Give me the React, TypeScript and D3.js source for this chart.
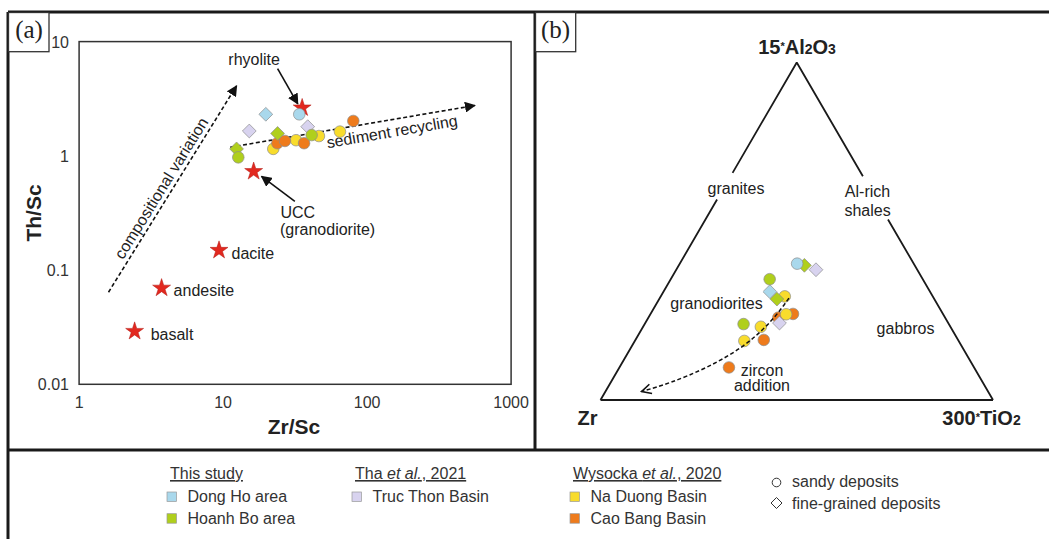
import React from "react";
import * as d3 from "d3";

const W = 1049;
const H = 539;

// ---------- Panel (a) data ----------
const xTicksA = [1, 10, 100, 1000];
const yTicksA = [0.01, 0.1, 1, 10];

const starLabels = ["rhyolite", "UCC", "dacite", "andesite", "basalt"];
const starZrSc = [35.4, 16.3, 9.37, 3.74, 2.43];
const starThSc = [2.63, 0.73, 0.149, 0.0696, 0.0291];

// [Zr/Sc, Th/Sc, shape]
const dongHoA: [number, number, string][] = [[19.8, 2.31, "diamond"], [33.8, 2.31, "circle"]];
const hoanhBoA: [number, number, string][] = [[23.9, 1.57, "diamond"], [12.4, 1.15, "diamond"], [12.75, 0.97, "circle"], [41.2, 1.52, "circle"]];
const trucThonA: [number, number, string][] = [[15.2, 1.65, "diamond"], [38.7, 1.8, "diamond"]];
const naDuongA: [number, number, string][] = [[22.3, 1.15, "circle"], [32.1, 1.37, "circle"], [46.3, 1.49, "circle"], [64.8, 1.63, "circle"]];
const caoBangA: [number, number, string][] = [[23.8, 1.29, "circle"], [26.9, 1.35, "circle"], [36.5, 1.29, "circle"], [80.2, 2.02, "circle"]];

// trend arrows [Zr/Sc, Th/Sc]
const compVariation = [[1.6, 0.064], [12.4, 4.1]];
const sedRecycling = [[11.2, 1.19], [560, 2.76]];
const rhyoliteArrow = [[23.9, 5.8], [33.0, 2.85]];
const uccArrow = [[31.5, 0.4], [18.5, 0.66]];

// ---------- Panel (b) data ----------  [Zr, 15*Al2O3, 300*TiO2] (%)
const dongHoB: [number, number, number, string][] = [[29.7, 40.4, 29.9, "circle"], [40.8, 32.1, 27.1, "diamond"]];
const hoanhBoB: [number, number, number, string][] = [[28.1, 39.9, 32.0, "diamond"], [39.0, 35.8, 25.2, "circle"], [40.1, 29.9, 30.0, "diamond"], [52.3, 22.5, 25.2, "circle"]];
const trucThonB: [number, number, number, string][] = [[25.8, 38.6, 35.6, "diamond"], [43.0, 22.8, 34.2, "diamond"]];
const naDuongB: [number, number, number, string][] = [[37.7, 30.7, 31.6, "circle"], [40.0, 25.4, 34.6, "circle"], [48.3, 21.7, 30.0, "circle"], [54.6, 17.5, 27.9, "circle"]];
const caoBangB: [number, number, number, string][] = [[42.5, 24.4, 33.1, "circle"], [38.2, 25.5, 36.3, "circle"], [49.5, 17.8, 32.7, "circle"], [62.45, 9.65, 27.9, "circle"]];
const zirconTrend = [[36.9, 30.2, 32.9], [44.0, 23.8, 32.2], [55.3, 15.8, 28.9], [68.3, 9.4, 22.3], [79.8, 5.0, 15.2], [88.3, 2.5, 9.2]];

// ---------- legend ----------
const groupNames = ["Dong Ho area", "Hoanh Bo area", "Truc Thon Basin", "Na Duong Basin", "Cao Bang Basin"];
const groupColors = ["#a9d8ec", "#b0cf1c", "#d8d3ef", "#f8dc2c", "#ee7b1c"];
const color = d3.scaleOrdinal<string, string>().domain(groupNames).range(groupColors);

const FONT = "'Liberation Sans', Arial, Helvetica, sans-serif";

// scales panel (a)
const xA = d3.scaleLog().domain([1, 1000]).range([79.1, 511.1]);
const yA = d3.scaleLog().domain([0.01, 10]).range([384.3, 41.6]);

// ternary scales
const tX = d3.scaleLinear().domain([0, 1]).range([600.5, 993]);
const tY = d3.scaleLinear().domain([0, 1]).range([400, 62.5]);
const tern = (z: number, a: number, t: number): [number, number] => {
  const s = z + a + t;
  return [tX(t / s + a / s / 2), tY(a / s)];
};

const diamondPath = (r: number) => `M0,${-r}L${r},0L0,${r}L${-r},0Z`;

function Marker({ x, y, shape, fill }: { x: number; y: number; shape: string; fill: string }) {
  if (shape === "circle")
    return <circle cx={x} cy={y} r={5.8} fill={fill} stroke="#8c8c8c" strokeWidth={0.7} />;
  return <path d={diamondPath(6.9)} transform={`translate(${x},${y})`} fill={fill} stroke="#8c8c8c" strokeWidth={0.7} />;
}

export default function App() {
  const star = d3.symbol().type(d3.symbolStar).size(100)() as string;

  const seriesAOrder: [string, [number, number, string][]][] = [
    ["Truc Thon Basin", trucThonA],
    ["Dong Ho area", dongHoA],
    ["Na Duong Basin", naDuongA],
    ["Cao Bang Basin", caoBangA],
    ["Hoanh Bo area", hoanhBoA.filter((d) => d[2] === "diamond")],
    ["Hoanh Bo area", hoanhBoA.filter((d) => d[2] === "circle")],
  ];

  const seriesBOrder: [string, [number, number, number, string][]][] = [
    ["Dong Ho area", dongHoB.filter((d) => d[3] === "diamond")],
    ["Cao Bang Basin", caoBangB],
    ["Na Duong Basin", naDuongB],
    ["Hoanh Bo area", hoanhBoB.filter((d) => d[3] === "diamond")],
    ["Dong Ho area", dongHoB.filter((d) => d[3] === "circle")],
    ["Truc Thon Basin", trucThonB],
    ["Hoanh Bo area", hoanhBoB.filter((d) => d[3] === "circle")],
  ];

  const lineA = d3
    .line<number[]>()
    .x((d) => xA(d[0]))
    .y((d) => yA(d[1]));

  const trendLine = d3
    .line<number[]>()
    .x((d) => tern(d[0], d[1], d[2])[0])
    .y((d) => tern(d[0], d[1], d[2])[1])
    .curve(d3.curveBasis);

  // triangle sides with gaps for labels
  const apex: [number, number, number] = [0, 100, 0];
  const zrV: [number, number, number] = [100, 0, 0];
  const tiV: [number, number, number] = [0, 0, 100];
  const lerp = (p: number[], q: number[], s: number) => p.map((v, i) => v + (q[i] - v) * s);
  const seg = (p: number[], q: number[], s0: number, s1: number) => {
    const a = lerp(p, q, s0);
    const b = lerp(p, q, s1);
    const pa = tern(a[0], a[1], a[2]);
    const pb = tern(b[0], b[1], b[2]);
    return `M${pa[0]},${pa[1]}L${pb[0]},${pb[1]}`;
  };
  const triPath = [
    seg(apex, zrV, 0, 0.327),
    seg(apex, zrV, 0.406, 1),
    seg(zrV, tiV, 0, 1),
    seg(apex, tiV, 0, 0.337),
    seg(apex, tiV, 0.465, 1),
  ].join("");

  const starPos = starLabels.map((n, i) => [xA(starZrSc[i]), yA(starThSc[i])]);

  // angles for rotated labels
  const cvP0 = [xA(compVariation[0][0]), yA(compVariation[0][1])];
  const cvP1 = [xA(compVariation[1][0]), yA(compVariation[1][1])];
  const cvAngle = (Math.atan2(cvP1[1] - cvP0[1], cvP1[0] - cvP0[0]) * 180) / Math.PI;
  const srP0 = [xA(sedRecycling[0][0]), yA(sedRecycling[0][1])];
  const srP1 = [xA(sedRecycling[1][0]), yA(sedRecycling[1][1])];
  const srAngle = (Math.atan2(srP1[1] - srP0[1], srP1[0] - srP0[0]) * 180) / Math.PI;

  const legendCols = [
    { title: ["This study"], italic: [false], x: 167, groups: ["Dong Ho area", "Hoanh Bo area"] },
    { title: ["Tha ", "et al.", ", 2021"], italic: [false, true, false], x: 352, groups: ["Truc Thon Basin"] },
    { title: ["Wysocka ", "et al.", ", 2020"], italic: [false, true, false], x: 570, groups: ["Na Duong Basin", "Cao Bang Basin"] },
  ];

  return (
    <svg
      width={W}
      height={H}
      viewBox={`0 0 ${W} ${H}`}
      style={{ position: "absolute", left: 0, top: 0, display: "block", background: "#fff" }}
      fontFamily={FONT}
    >
      <defs>
        <marker id="headA" viewBox="0 0 10 10" refX="9" refY="5" markerWidth="11" markerHeight="11" markerUnits="userSpaceOnUse" orient="auto">
          <path d="M0,0L10,5L0,10Z" fill="#111" />
        </marker>
        <marker id="headOpen" viewBox="0 0 10 10" refX="9" refY="5" markerWidth="12" markerHeight="12" markerUnits="userSpaceOnUse" orient="auto">
          <path d="M1,1L9,5L1,9" fill="none" stroke="#111" strokeWidth={1.3} />
        </marker>
      </defs>
      <rect x={0} y={0} width={W} height={H} fill="#fff" />

      {/* frame */}
      <g stroke="#1a1a1a" strokeWidth={3} fill="none">
        <line x1={8} y1={12} x2={W} y2={12} />
        <line x1={8} y1={12} x2={8} y2={H} />
        <line x1={535} y1={12} x2={535} y2={450} />
        <line x1={8} y1={450} x2={W} y2={450} />
      </g>
      <g stroke="#333" strokeWidth={1.3} fill="#fff">
        <rect x={8.5} y={12.5} width={40.5} height={39.2} />
        <rect x={535.5} y={12.5} width={40.2} height={39.2} />
      </g>
      <text x={29} y={38} fontFamily="'Liberation Serif', 'Times New Roman', serif" fontSize={25} textAnchor="middle" fill="#222">(a)</text>
      <text x={555.5} y={38} fontFamily="'Liberation Serif', 'Times New Roman', serif" fontSize={25} textAnchor="middle" fill="#222">(b)</text>

      {/* ---------- Panel (a) ---------- */}
      <rect x={xA(1)} y={yA(10)} width={xA(1000) - xA(1)} height={yA(0.01) - yA(10)} fill="none" stroke="#333" strokeWidth={1.5} />
      {yTicksA.map((t) => (
        <text key={"yt" + t} x={69} y={yA(t) + 6} textAnchor="end" fontSize={16} fill="#333">
          {String(t)}
        </text>
      ))}
      {xTicksA.map((t) => (
        <text key={"xt" + t} x={xA(t)} y={408} textAnchor="middle" fontSize={16} fill="#333">
          {String(t)}
        </text>
      ))}
      <text x={294} y={434} textAnchor="middle" fontSize={21} fontWeight="bold" fill="#222">Zr/Sc</text>
      <text transform={`translate(41,213) rotate(-90)`} textAnchor="middle" fontSize={21} fontWeight="bold" fill="#222">Th/Sc</text>

      {/* trend arrows */}
      <path d={lineA(compVariation) as string} stroke="#111" strokeWidth={1.6} strokeDasharray="4,2.5" fill="none" markerEnd="url(#headA)" />
      <path d={lineA(sedRecycling) as string} stroke="#111" strokeWidth={1.6} strokeDasharray="4,2.5" fill="none" markerEnd="url(#headA)" />
      <text transform={`translate(166,191) rotate(${cvAngle})`} textAnchor="middle" fontSize={16} fill="#222">compositional variation</text>
      <text transform={`translate(393,137) rotate(${srAngle})`} textAnchor="middle" fontSize={16} fill="#222">sediment recycling</text>

      {/* pointer arrows */}
      <path d={lineA(rhyoliteArrow) as string} stroke="#111" strokeWidth={1.6} fill="none" markerEnd="url(#headA)" />
      <path d={lineA(uccArrow) as string} stroke="#111" strokeWidth={1.6} fill="none" markerEnd="url(#headA)" />

      {/* stars */}
      {starPos.map((p, i) => (
        <path key={"st" + i} d={star} transform={`translate(${p[0]},${p[1]})`} fill="#e2281f" stroke="#b01a14" strokeWidth={0.5} />
      ))}
      <text x={starPos[0][0] - 48} y={65} textAnchor="middle" fontSize={16} fill="#222">rhyolite</text>
      <text x={280.5} y={217.5} fontSize={16} fill="#222">UCC</text>
      <text x={280} y={235} fontSize={16} fill="#222">(granodiorite)</text>
      <text x={starPos[2][0] + 12.5} y={starPos[2][1] + 9} fontSize={16} fill="#222">dacite</text>
      <text x={starPos[3][0] + 12} y={starPos[3][1] + 7.5} fontSize={16} fill="#222">andesite</text>
      <text x={starPos[4][0] + 16} y={starPos[4][1] + 9} fontSize={16} fill="#222">basalt</text>

      {/* samples (a) */}
      {seriesAOrder.map(([g, arr], si) =>
        arr.map((d, i) => <Marker key={`a${si}-${i}`} x={xA(d[0])} y={yA(d[1])} shape={d[2]} fill={color(g)} />)
      )}

      {/* ---------- Panel (b) ---------- */}
      <path d={triPath} stroke="#1a1a1a" strokeWidth={1.8} fill="none" />
      <text x={736} y={193.5} textAnchor="middle" fontSize={16} fill="#222">granites</text>
      <text x={867.5} y={196.5} textAnchor="middle" fontSize={16} fill="#222">Al-rich</text>
      <text x={867.5} y={215.5} textAnchor="middle" fontSize={16} fill="#222">shales</text>
      <text x={716.5} y={308.5} textAnchor="middle" fontSize={16} fill="#222">granodiorites</text>
      <text x={905.5} y={333.5} textAnchor="middle" fontSize={16} fill="#222">gabbros</text>
      <text x={762} y={375.5} textAnchor="middle" fontSize={16} fill="#222">zircon</text>
      <text x={762} y={391} textAnchor="middle" fontSize={16} fill="#222">addition</text>

      <text x={797} y={53.5} textAnchor="middle" fontSize={20} fontWeight="bold" fill="#222">
        15<tspan fontSize={11} dy={-4}>*</tspan>
        <tspan dy={4}>Al</tspan>
        <tspan fontSize={14}>2</tspan>
        <tspan>O</tspan>
        <tspan fontSize={14}>3</tspan>
      </text>
      <text x={587.5} y={425} textAnchor="middle" fontSize={20} fontWeight="bold" fill="#222">Zr</text>
      <text x={981.5} y={425} textAnchor="middle" fontSize={20} fontWeight="bold" fill="#222">
        300<tspan fontSize={11} dy={-4}>*</tspan>
        <tspan dy={4}>TiO</tspan>
        <tspan fontSize={14}>2</tspan>
      </text>

      {seriesBOrder.map(([g, arr], si) =>
        arr.map((d, i) => {
          const p = tern(d[0], d[1], d[2]);
          return <Marker key={`b${si}-${i}`} x={p[0]} y={p[1]} shape={d[3]} fill={color(g)} />;
        })
      )}
      <path d={trendLine(zirconTrend) as string} stroke="#111" strokeWidth={1.5} strokeDasharray="4,2.5" fill="none" markerEnd="url(#headOpen)" />

      {/* ---------- Legend ---------- */}
      {legendCols.map((c, ci) => (
        <g key={"lc" + ci}>
          <text x={c.x + 3} y={479} fontSize={16} fill="#333" textDecoration="underline">
            {c.title.map((t, ti) => (
              <tspan key={ti} fontStyle={c.italic[ti] ? "italic" : "normal"}>
                {t}
              </tspan>
            ))}
          </text>
          {c.groups.map((g, gi) => (
            <g key={g}>
              <rect x={c.x} y={492 + gi * 21.7} width={9.5} height={9.5} fill={color(g)} stroke="#999" strokeWidth={0.7} />
              <text x={c.x + 20.5} y={502 + gi * 21.7} fontSize={16} fill="#333">
                {g}
              </text>
            </g>
          ))}
        </g>
      ))}
      <circle cx={776.5} cy={482.5} r={4.3} fill="none" stroke="#333" strokeWidth={1} />
      <text x={792} y={487} fontSize={16} fill="#333">sandy deposits</text>
      <path d={diamondPath(5.5)} transform="translate(776.5,503)" fill="none" stroke="#333" strokeWidth={1} />
      <text x={792} y={508.5} fontSize={16} fill="#333">fine-grained deposits</text>
    </svg>
  );
}
